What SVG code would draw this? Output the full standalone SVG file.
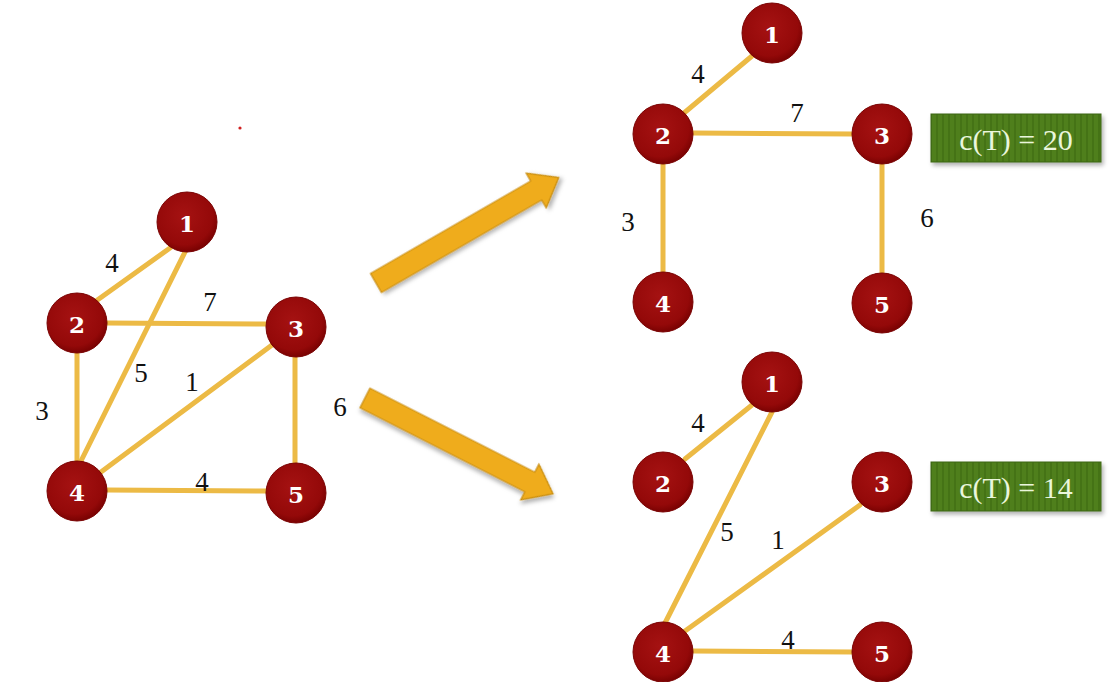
<svg xmlns="http://www.w3.org/2000/svg" width="1111" height="682" viewBox="0 0 1111 682">
<defs>
<radialGradient id="ng" cx="45%" cy="40%" r="60%">
<stop offset="0" stop-color="#a51212"/>
<stop offset="0.8" stop-color="#940909"/>
<stop offset="1" stop-color="#7a0202"/>
</radialGradient>
<pattern id="stripes" width="6" height="10" patternUnits="userSpaceOnUse">
<rect width="6" height="10" fill="#4f7f1d"/>
<rect width="2" height="10" fill="#457317"/>
</pattern>
<filter id="sh" x="-20%" y="-20%" width="150%" height="150%">
<feDropShadow dx="2" dy="3" stdDeviation="2" flood-color="#000" flood-opacity="0.3"/>
</filter>
</defs>
<style>
.edge{stroke:#ecba45;stroke-width:5;stroke-linecap:round;fill:none}
.node circle{fill:url(#ng);stroke:#7a0303;stroke-width:1}
.node text{font-family:"DejaVu Serif","Liberation Serif",serif;font-weight:bold;font-size:23px;fill:#ffffff;text-anchor:middle;dominant-baseline:central}
.lbl{font-family:"Liberation Serif","DejaVu Serif",serif;font-size:27px;fill:#111;text-anchor:middle;dominant-baseline:central}
.box rect{fill:url(#stripes);stroke:#3d6612;stroke-width:1}
.box text{font-family:"Liberation Serif","DejaVu Serif",serif;font-size:30px;fill:#eaf6dc;text-anchor:middle;dominant-baseline:central}
.arrow{fill:#efac1c;stroke:#c98d0e;stroke-width:1.2}
</style>

<circle cx="240" cy="128" r="1.6" fill="#d02020"/>

<g id="connectors">
<!-- left graph -->
<line class="edge" x1="96" y1="301" x2="170" y2="248"/>
<line class="edge" x1="186" y1="250" x2="80" y2="463"/>
<line class="edge" x1="106" y1="323" x2="267" y2="324"/>
<line class="edge" x1="77" y1="352" x2="77" y2="462"/>
<line class="edge" x1="272" y1="345" x2="101" y2="472"/>
<line class="edge" x1="295" y1="357" x2="295" y2="464"/>
<line class="edge" x1="107" y1="490" x2="267" y2="491"/>
<!-- top right -->
<line class="edge" x1="684" y1="113" x2="752" y2="56"/>
<line class="edge" x1="693" y1="133" x2="853" y2="134"/>
<line class="edge" x1="663" y1="164" x2="663" y2="272"/>
<line class="edge" x1="882" y1="164" x2="882" y2="273"/>
<!-- bottom right -->
<line class="edge" x1="685" y1="459" x2="752" y2="405"/>
<line class="edge" x1="772" y1="412" x2="665" y2="623"/>
<line class="edge" x1="860" y1="505" x2="685" y2="631"/>
<line class="edge" x1="693" y1="651" x2="853" y2="652"/>
<!-- big arrows -->
<polygon class="arrow" filter="url(#sh)" points="0,-11 185,-11 185,-20 211,0 185,20 185,11 0,11" transform="translate(376,283) rotate(-30)"/>
<polygon class="arrow" filter="url(#sh)" points="0,-11 185,-11 185,-20 211,0 185,20 185,11 0,11" transform="translate(365,398) rotate(27)"/>
</g>

<g id="edge-labels">
<text class="lbl" x="112" y="263">4</text>
<text class="lbl" x="210" y="302">7</text>
<text class="lbl" x="141" y="373">5</text>
<text class="lbl" x="192" y="382">1</text>
<text class="lbl" x="42" y="411">3</text>
<text class="lbl" x="340" y="407">6</text>
<text class="lbl" x="202" y="482">4</text>

<text class="lbl" x="698" y="74">4</text>
<text class="lbl" x="797" y="113">7</text>
<text class="lbl" x="628" y="222">3</text>
<text class="lbl" x="927" y="218">6</text>

<text class="lbl" x="698" y="423">4</text>
<text class="lbl" x="727" y="532">5</text>
<text class="lbl" x="778" y="540">1</text>
<text class="lbl" x="788" y="640">4</text>
</g>

<g id="L1" class="node"><circle cx="187" cy="222" r="30"/><text x="187" y="223">1</text></g>
<g id="L2" class="node"><circle cx="77" cy="323" r="30"/><text x="77" y="324">2</text></g>
<g id="L3" class="node"><circle cx="296" cy="327" r="30"/><text x="296" y="328">3</text></g>
<g id="L4" class="node"><circle cx="77" cy="491" r="30"/><text x="77" y="492">4</text></g>
<g id="L5" class="node"><circle cx="296" cy="493" r="30"/><text x="296" y="494">5</text></g>

<g id="A1" class="node"><circle cx="772" cy="33" r="30"/><text x="772" y="34">1</text></g>
<g id="A2" class="node"><circle cx="663" cy="134" r="30"/><text x="663" y="135">2</text></g>
<g id="A3" class="node"><circle cx="882" cy="134" r="30"/><text x="882" y="135">3</text></g>
<g id="A4" class="node"><circle cx="663" cy="302" r="30"/><text x="663" y="303">4</text></g>
<g id="A5" class="node"><circle cx="882" cy="303" r="30"/><text x="882" y="304">5</text></g>

<g id="B1" class="node"><circle cx="772" cy="382" r="30"/><text x="772" y="383">1</text></g>
<g id="B2" class="node"><circle cx="663" cy="482" r="30"/><text x="663" y="483">2</text></g>
<g id="B3" class="node"><circle cx="882" cy="482" r="30"/><text x="882" y="483">3</text></g>
<g id="B4" class="node"><circle cx="663" cy="652" r="30"/><text x="663" y="653">4</text></g>
<g id="B5" class="node"><circle cx="882" cy="652" r="30"/><text x="882" y="653">5</text></g>

<g id="costA" class="box"><rect x="931" y="114" width="170" height="48" filter="url(#sh)"/><text x="1016" y="139">c(T) = 20</text></g>
<g id="costB" class="box"><rect x="931" y="462" width="170" height="49" filter="url(#sh)"/><text x="1016" y="487">c(T) = 14</text></g>
</svg>
